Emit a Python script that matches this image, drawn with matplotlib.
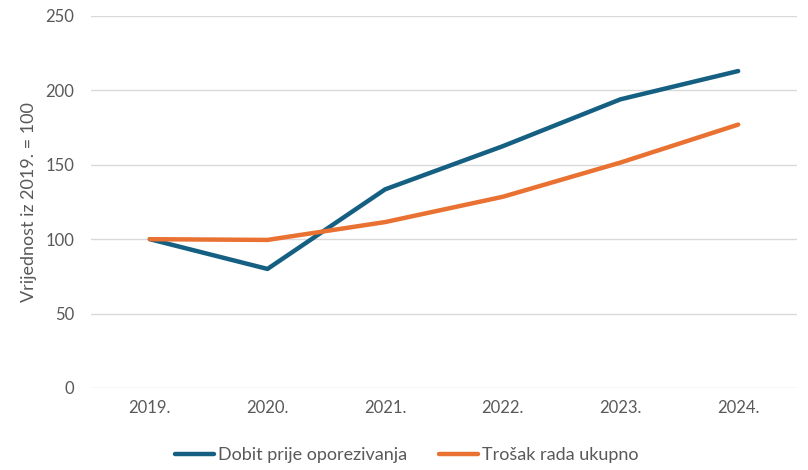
import matplotlib
matplotlib.use("Agg")
import matplotlib.pyplot as plt

plt.rcParams['font.family'] = ['Lato', 'DejaVu Sans']

years = ["2019.", "2020.", "2021.", "2022.", "2023.", "2024."]
dobit = [100, 80, 133.5, 162.5, 194, 213]
trosak = [100, 99.5, 111.5, 128.5, 151.5, 177]
yticks = [0, 50, 100, 150, 200, 250]

blue = "#156082"
orange = "#E97132"
grey = "#595959"

fig = plt.figure(figsize=(8.08, 4.70), dpi=100)
ax = fig.add_axes([0.1126, 0.1745, 0.8738, 0.7915])

x = list(range(len(years)))
ax.plot(x, dobit, color=blue, lw=3.2, solid_joinstyle="round", solid_capstyle="round",
        label="Dobit prije oporezivanja", zorder=3)
ax.plot(x, trosak, color=orange, lw=3.2, solid_joinstyle="round", solid_capstyle="round",
        label="Trošak rada ukupno", zorder=3)

ax.set_xlim(-0.5, len(years) - 0.5)
ax.set_ylim(0, 250)
ax.set_yticks(yticks)
ax.set_xticks(x)
ax.set_xticklabels(years)
ax.grid(axis="y", color="#d9d9d9", lw=1)
ax.set_axisbelow(True)
for s in ax.spines.values():
    s.set_visible(False)
ax.tick_params(length=0, colors=grey, labelsize=12)
ax.tick_params(axis="x", pad=9)
ax.tick_params(axis="y", pad=12)

ax.set_ylabel("Vrijednost iz 2019. = 100", color=grey, fontsize=13, labelpad=6)

ax.legend(loc="upper center", bbox_to_anchor=(0.447, -0.115), ncol=2, frameon=False,
          fontsize=13, labelcolor=grey, handlelength=2.2, handletextpad=0.2,
          columnspacing=1.75)

fig.savefig("out.png", dpi=100)
